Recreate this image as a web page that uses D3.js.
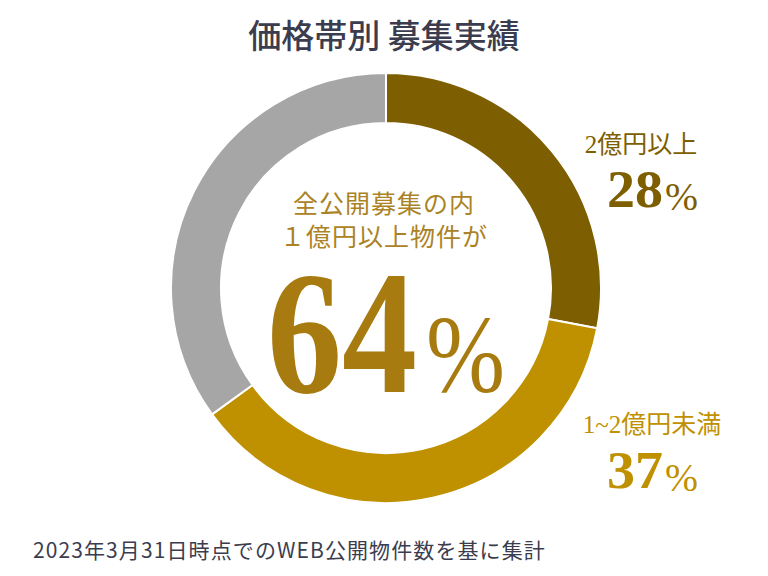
<!DOCTYPE html>
<html>
<head>
<meta charset="utf-8">
<script src="https://cdn.jsdelivr.net/npm/d3@7"></script>
<style>
html,body{margin:0;padding:0;background:#fff;}
svg{display:block;}
</style>
</head>
<body>
<svg id="chart" width="768" height="576"></svg>
<script>
const categories = ["2億円以上", "1~2億円未満", "1億円未満"];
const values = [28, 37, 35];
const colors = ["#7d5e00", "#bf9000", "#a6a6a6"];
const labelText = ["2億円以上", "1~2億円未満"];
const labelPct = ["28", "37"];
const title = "価格帯別 募集実績";
const centerLines = ["全公開募集の内", "１億円以上物件が"];
const centerPct = "64";
const footnote = "2023年3月31日時点でのWEB公開物件数を基に集計";

const svg = d3.select("#chart");
const cx = 386, cy = 288, rOuter = 215, rInner = 165;
const serif = "'Liberation Serif','Noto Sans CJK JP',serif";
const sans = "'Noto Sans CJK JP','Noto Sans',sans-serif";

svg.append("text").attr("x", 384).attr("y", 48)
  .attr("text-anchor", "middle").attr("font-family", sans)
  .attr("font-size", 33).attr("font-weight", 500).attr("fill", "#3b3d4f")
  .text(title);

const pie = d3.pie().sort(null).value(d => d)(values);
const arc = d3.arc().innerRadius(rInner).outerRadius(rOuter);
const g = svg.append("g").attr("transform", `translate(${cx},${cy})`);
g.selectAll("path").data(pie).join("path")
  .attr("d", arc).attr("fill", (d, i) => colors[i])
  .attr("stroke", "#fff").attr("stroke-width", 2);

// center text
centerLines.forEach((t, i) => {
  svg.append("text").attr("x", 384).attr("y", 213 + i * 33)
    .attr("text-anchor", "middle").attr("font-family", serif)
    .attr("font-size", 25).attr("fill", "#ab8326").attr("letter-spacing", 1)
    .text(t);
});
svg.append("text").attr("x", 267).attr("y", 392)
  .attr("font-family", serif).attr("font-weight", "bold").attr("fill", "#a77b10")
  .attr("font-size", 176).attr("textLength", 150).attr("lengthAdjust", "spacingAndGlyphs")
  .text(centerPct);
svg.append("text").attr("x", 426).attr("y", 392)
  .attr("font-family", serif).attr("fill", "#a77b10")
  .attr("font-size", 110).attr("textLength", 79).attr("lengthAdjust", "spacingAndGlyphs")
  .text("%");

// side labels
const labelPos = [{lx: 641, ly: 153, nx: 607, ny: 207}, {lx: 652, ly: 433, nx: 607, ny: 488}];
labelPos.forEach((p, i) => {
  svg.append("text").attr("x", p.lx).attr("y", p.ly)
    .attr("text-anchor", "middle").attr("font-family", serif)
    .attr("font-size", 25).attr("fill", colors[i]).text(labelText[i]);
  svg.append("text").attr("x", p.nx).attr("y", p.ny)
    .attr("font-family", serif).attr("font-weight", "bold").attr("fill", colors[i])
    .attr("font-size", 53).attr("textLength", 56).attr("lengthAdjust", "spacingAndGlyphs")
    .text(labelPct[i]);
  svg.append("text").attr("x", p.nx + 58).attr("y", p.ny + 3)
    .attr("font-family", serif).attr("fill", colors[i])
    .attr("font-size", 41).attr("textLength", 33).attr("lengthAdjust", "spacingAndGlyphs")
    .text("%");
});

svg.append("text").attr("x", 33).attr("y", 558)
  .attr("font-family", sans).attr("font-size", 21).attr("fill", "#3b3d4f")
  .attr("letter-spacing", 1.1)
  .text(footnote);
</script>
</body>
</html>
